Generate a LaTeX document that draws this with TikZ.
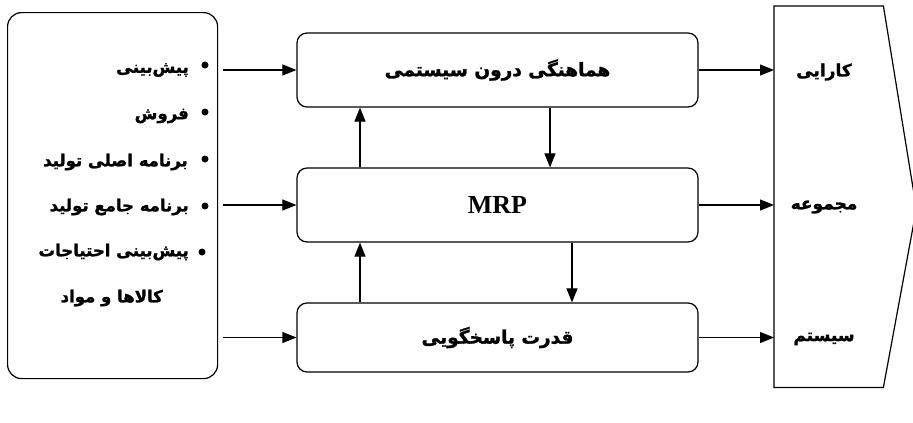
\documentclass[tikz,border=0pt]{standalone}
\usepackage{fontspec}
\setmainfont{Liberation Serif}
\newfontfamily\fa[Script=Arabic,BoldFeatures={FakeBold=1.5}]{DejaVu Sans}
\TeXXeTstate=1
\usetikzlibrary{arrows.meta,calc}
\newcommand{\fat}[1]{{\fa\bfseries\beginR #1\endR}}
\begin{document}
\begin{tikzpicture}[x=1pt,y=-1pt,
  box/.style={draw,line width=1.2pt,rounded corners=10pt,minimum width=401pt,inner sep=0pt},
  arr/.style={line width=1.1pt,-{Triangle[length=14pt,width=11pt]}},
  lbl/.style={font=\fontsize{16.5}{18}\selectfont,inner sep=0pt},
  olbl/.style={font=\fontsize{17}{19}\selectfont,inner sep=0pt},
  dot/.style={circle,fill=black,inner sep=0pt,minimum size=7pt}]
\useasboundingbox (0,0) rectangle (913,423);
\clip (0,0) rectangle (913,423);
\fill[white] (0,0) rectangle (913,423);

% input box
\node[draw,line width=1.2pt,rounded corners=14pt,minimum width=210pt,minimum height=366pt,anchor=north west,inner sep=0pt] (in) at (7,12) {};

% bullets and texts
\node[dot] (b1) at (205,65) {};
\node[dot] (b2) at (205,112) {};
\node[dot] (b3) at (205,159) {};
\node[dot] (b4) at (205,206) {};
\node[dot] (b5) at (202,252) {};
\node[lbl,anchor=east] (t1) at (189,70) {\fat{پیش‌بینی}};
\node[lbl,anchor=east] (t2) at (189,116) {\fat{فروش}};
\node[lbl,anchor=east] (t3) at (188,162) {\fat{برنامه اصلی تولید}};
\node[lbl,anchor=east] (t4) at (189,207) {\fat{برنامه جامع تولید}};
\node[lbl,anchor=east] (t5) at (189,252) {\fat{پیش‌بینی احتیاجات}};
\node[lbl,anchor=east] (t6) at (163,298) {\fat{کالاها و مواد}};

% middle boxes
\node[box,minimum height=74pt] (top) at (497.5,70) {\fontsize{18.5}{20}\selectfont\fat{هماهنگی درون سیستمی}};
\node[box,minimum height=74pt] (mrp) at (497.5,205) {\fontsize{26}{28}\selectfont\bfseries MRP};
\node[box,minimum height=69pt] (bot) at (497.5,337.5) {\fontsize{18.5}{20}\selectfont\fat{قدرت پاسخگویی}};

% output shape
\node[minimum width=109pt,minimum height=381pt,anchor=north west,inner sep=0pt] (out) at (774,6) {};
\draw[line width=1.2pt] (out.north west) -- (out.north east) -- ($(out.east)+(33,12)$) -- (out.south east) -- (out.south west) -- cycle;
\node[olbl] (o1) at (824,72) {\fat{کارایی}};
\node[olbl] (o2) at (824,207) {\fat{مجموعه}};
\node[olbl] (o3) at (824,339) {\fat{سیستم}};

% left arrows
\coordinate (ls) at (223,0);
\draw[arr] (ls |- top.west) -- (top.west);
\draw[arr] (ls |- mrp.west) -- (mrp.west);
\draw[arr] (ls |- bot.west) -- (bot.west);

% right arrows
\draw[arr] (top.east) -- (top.east -| out.west);
\draw[arr] (mrp.east) -- (mrp.east -| out.west);
\draw[arr] (bot.east) -- (bot.east -| out.west);

% vertical arrows
\coordinate (xu) at (360,0);
\coordinate (xd1) at (550,0);
\coordinate (xd2) at (572,0);
\draw[arr] (mrp.north -| xu) -- (top.south -| xu);
\draw[arr] (top.south -| xd1) -- (mrp.north -| xd1);
\draw[arr] (bot.north -| xu) -- (mrp.south -| xu);
\draw[arr] (mrp.south -| xd2) -- (bot.north -| xd2);
\end{tikzpicture}
\end{document}
